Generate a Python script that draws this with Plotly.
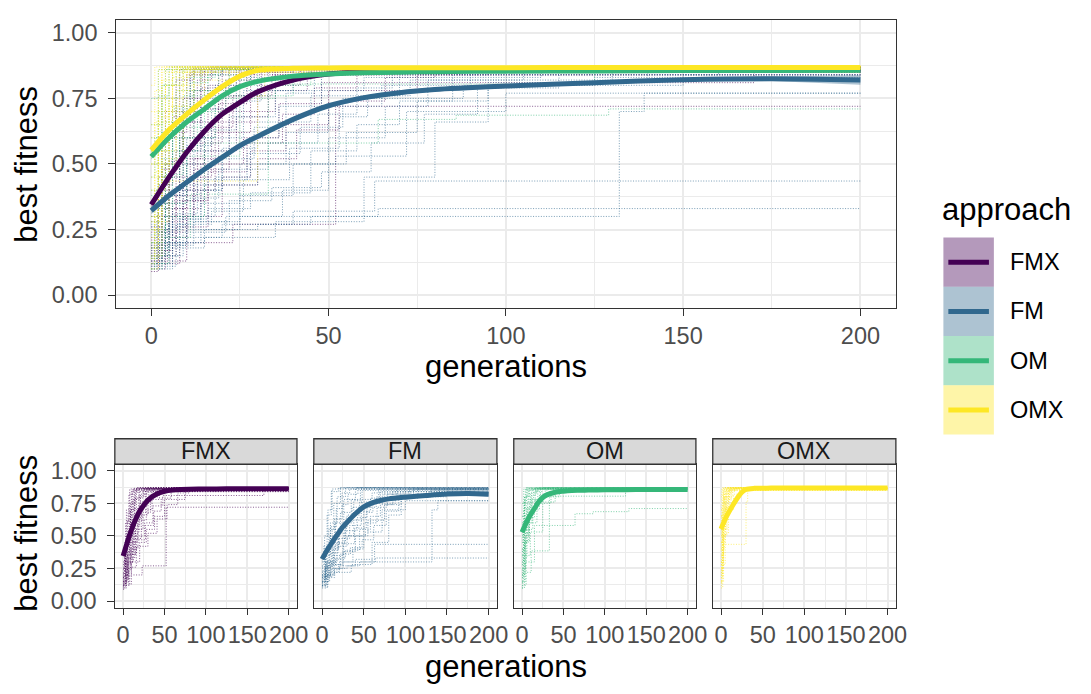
import plotly.graph_objects as go

W, H = 1091, 694

APPROACHES = ["FMX", "FM", "OM", "OMX"]
COLORS = {"FMX": "#440154", "FM": "#31688E", "OM": "#35B779", "OMX": "#FDE725"}
RGB = {"FMX": (68, 1, 84), "FM": (49, 104, 142), "OM": (53, 183, 121), "OMX": (253, 231, 37)}

X_TICKS = [0, 50, 100, 150, 200]
X_MINOR = [25, 75, 125, 175]
Y_TICKS = [0, 0.25, 0.5, 0.75, 1.0]
Y_TICK_LABELS = ["0.00", "0.25", "0.50", "0.75", "1.00"]
Y_MINOR = [0.125, 0.375, 0.625, 0.875]
MAX_GEN = 200

# smoothed mean curves (loess-like)
SMOOTH_GENS = [0, 5, 10, 15, 20, 25, 30, 40, 50, 60, 70, 80, 100, 125, 150, 175, 200]
SMOOTH_FMX = [0.345, 0.45, 0.545, 0.625, 0.69, 0.735, 0.775, 0.82, 0.843, 0.853, 0.857, 0.859, 0.86, 0.861, 0.861, 0.861, 0.861]
SMOOTH_FM = [0.322, 0.38, 0.43, 0.48, 0.525, 0.57, 0.605, 0.67, 0.722, 0.753, 0.772, 0.784, 0.797, 0.81, 0.821, 0.825, 0.82]
SMOOTH_OM = [0.528, 0.6, 0.66, 0.71, 0.76, 0.795, 0.815, 0.835, 0.843, 0.848, 0.85, 0.852, 0.854, 0.855, 0.856, 0.856, 0.857]
SMOOTH_OMX = [0.553, 0.63, 0.69, 0.745, 0.795, 0.835, 0.857, 0.865, 0.866, 0.867, 0.867, 0.867, 0.867, 0.868, 0.868, 0.868, 0.868]
SE_FMX = [0.012, 0.01, 0.009, 0.008, 0.008, 0.007, 0.007, 0.006, 0.006, 0.005, 0.005, 0.005, 0.005, 0.005, 0.005, 0.006, 0.009]
SE_FM = [0.014, 0.011, 0.009, 0.008, 0.008, 0.008, 0.008, 0.008, 0.008, 0.008, 0.008, 0.008, 0.007, 0.006, 0.006, 0.009, 0.018]
SE_OM = [0.011, 0.009, 0.008, 0.007, 0.006, 0.006, 0.005, 0.005, 0.005, 0.005, 0.005, 0.005, 0.005, 0.005, 0.005, 0.006, 0.008]
SE_OMX = [0.011, 0.009, 0.008, 0.007, 0.006, 0.005, 0.004, 0.004, 0.004, 0.004, 0.004, 0.004, 0.004, 0.004, 0.004, 0.004, 0.005]

# individual runs: step points (generation, best fitness); each run holds its last value until generation 200
RUNS_FMX = [
    [(0, 0.12), (2, 0.25), (5, 0.45), (9, 0.70), (14, 0.86)],
    [(0, 0.18), (3, 0.30), (7, 0.55), (12, 0.78), (20, 0.865)],
    [(0, 0.10), (4, 0.22), (10, 0.40), (18, 0.62), (28, 0.85), (40, 0.87)],
    [(0, 0.25), (2, 0.42), (6, 0.68), (11, 0.85)],
    [(0, 0.15), (5, 0.30), (12, 0.48), (22, 0.70), (35, 0.86)],
    [(0, 0.20), (3, 0.35), (8, 0.60), (16, 0.80), (25, 0.865)],
    [(0, 0.12), (8, 0.20), (23, 0.27), (52, 0.72)],
    [(0, 0.30), (4, 0.50), (9, 0.75), (15, 0.86)],
    [(0, 0.14), (6, 0.33), (14, 0.50), (26, 0.60), (36, 0.73), (48, 0.81), (170, 0.86)],
    [(0, 0.22), (2, 0.40), (5, 0.62), (10, 0.84), (18, 0.87)],
    [(0, 0.16), (4, 0.28), (9, 0.45), (17, 0.66), (30, 0.80), (42, 0.86)],
    [(0, 0.35), (3, 0.60), (7, 0.82), (12, 0.865)],
    [(0, 0.11), (3, 0.20), (7, 0.38), (13, 0.58), (20, 0.76), (31, 0.86)],
    [(0, 0.19), (5, 0.40), (11, 0.66), (19, 0.84)],
    [(0, 0.13), (10, 0.30), (20, 0.45), (28, 0.55), (38, 0.65), (50, 0.78), (75, 0.84), (95, 0.86)],
    [(0, 0.28), (2, 0.45), (4, 0.70), (8, 0.86)],
    [(0, 0.17), (6, 0.36), (15, 0.55), (24, 0.68), (33, 0.78), (44, 0.85)],
    [(0, 0.24), (3, 0.38), (8, 0.52), (14, 0.71), (21, 0.82), (29, 0.87)],
    [(0, 0.13), (3, 0.24), (9, 0.36), (16, 0.47), (27, 0.58), (37, 0.69), (46, 0.79), (58, 0.85)],
    [(0, 0.21), (4, 0.33), (10, 0.50), (15, 0.64), (23, 0.76), (34, 0.84)],
    [(0, 0.09), (2, 0.17), (6, 0.30), (12, 0.52), (19, 0.73), (27, 0.86)],
    [(0, 0.26), (3, 0.48), (8, 0.70), (13, 0.82), (17, 0.87)],
    [(0, 0.15), (7, 0.26), (16, 0.42), (30, 0.52), (41, 0.63), (53, 0.74), (66, 0.83), (80, 0.86)],
    [(0, 0.18), (2, 0.33), (5, 0.51), (9, 0.66), (14, 0.79), (24, 0.86)],
]
RUNS_FM = [
    [(0, 0.12), (6, 0.20), (15, 0.25), (30, 0.27), (45, 0.30), (132, 0.70), (139, 0.77)],
    [(0, 0.15), (8, 0.22), (20, 0.27), (40, 0.30), (64, 0.33)],
    [(0, 0.20), (10, 0.28), (25, 0.30), (40, 0.32), (63, 0.435)],
    [(0, 0.18), (5, 0.30), (15, 0.42), (30, 0.50), (52, 0.53), (72, 0.70), (100, 0.77)],
    [(0, 0.25), (5, 0.40), (12, 0.55), (22, 0.68), (35, 0.78), (60, 0.83), (110, 0.86)],
    [(0, 0.14), (3, 0.30), (8, 0.55), (14, 0.75), (22, 0.87)],
    [(0, 0.20), (4, 0.35), (10, 0.60), (18, 0.80), (28, 0.87)],
    [(0, 0.10), (6, 0.20), (14, 0.35), (25, 0.50), (38, 0.62), (50, 0.72), (65, 0.80), (90, 0.86)],
    [(0, 0.30), (3, 0.50), (7, 0.70), (12, 0.86)],
    [(0, 0.16), (5, 0.26), (12, 0.40), (20, 0.56), (30, 0.66), (45, 0.76), (70, 0.84), (160, 0.86)],
    [(0, 0.22), (8, 0.30), (18, 0.45), (28, 0.60), (36, 0.72), (48, 0.85)],
    [(0, 0.13), (4, 0.25), (9, 0.42), (16, 0.60), (26, 0.78), (40, 0.87)],
    [(0, 0.19), (10, 0.25), (25, 0.38), (40, 0.50), (55, 0.62), (75, 0.74), (95, 0.81), (130, 0.85)],
    [(0, 0.27), (2, 0.42), (6, 0.66), (11, 0.84), (20, 0.87)],
    [(0, 0.11), (7, 0.18), (15, 0.22), (35, 0.28), (60, 0.45), (80, 0.66), (95, 0.80), (125, 0.83)],
    [(0, 0.17), (4, 0.27), (11, 0.37), (19, 0.48), (33, 0.58), (47, 0.69), (58, 0.79), (68, 0.86)],
    [(0, 0.23), (6, 0.31), (13, 0.44), (27, 0.54), (42, 0.64), (54, 0.75), (88, 0.80), (150, 0.84)],
    [(0, 0.14), (2, 0.24), (6, 0.38), (10, 0.57), (17, 0.71), (24, 0.83), (33, 0.86)],
    [(0, 0.12), (5, 0.19), (12, 0.28), (22, 0.36), (34, 0.41), (48, 0.47), (62, 0.58), (77, 0.69), (92, 0.79), (115, 0.86)],
    [(0, 0.20), (6, 0.29), (16, 0.33), (28, 0.39), (45, 0.55), (58, 0.65), (70, 0.74), (85, 0.84)],
    [(0, 0.15), (9, 0.24), (21, 0.30), (37, 0.40), (50, 0.60), (66, 0.72), (78, 0.82), (105, 0.86)],
    [(0, 0.26), (4, 0.38), (9, 0.50), (15, 0.63), (24, 0.74), (31, 0.82), (43, 0.87)],
    [(0, 0.12), (3, 0.20), (8, 0.29), (14, 0.40), (20, 0.52), (29, 0.64), (38, 0.77), (46, 0.86)],
    [(0, 0.18), (7, 0.27), (17, 0.32), (26, 0.44), (39, 0.56), (53, 0.68), (61, 0.76), (73, 0.82), (140, 0.86)],
]
RUNS_OM = [
    [(0, 0.15), (4, 0.30), (15, 0.58), (64, 0.67), (86, 0.686), (129, 0.71)],
    [(0, 0.20), (3, 0.45), (8, 0.60), (18, 0.75), (35, 0.805), (125, 0.86)],
    [(0, 0.10), (3, 0.22), (11, 0.385), (33, 0.80), (45, 0.86)],
    [(0, 0.12), (5, 0.35), (10, 0.53), (25, 0.80), (30, 0.86)],
    [(0, 0.30), (2, 0.60), (5, 0.80), (9, 0.865)],
    [(0, 0.50), (2, 0.70), (4, 0.86)],
    [(0, 0.18), (2, 0.45), (6, 0.72), (12, 0.86)],
    [(0, 0.65), (3, 0.80), (6, 0.87)],
    [(0, 0.40), (3, 0.62), (7, 0.78), (14, 0.86)],
    [(0, 0.25), (4, 0.50), (8, 0.70), (16, 0.84), (24, 0.87)],
    [(0, 0.75), (2, 0.86)],
    [(0, 0.55), (3, 0.75), (8, 0.85), (20, 0.87)],
    [(0, 0.20), (1, 0.40), (4, 0.66), (10, 0.83), (18, 0.865)],
    [(0, 0.35), (5, 0.60), (12, 0.78), (22, 0.86)],
    [(0, 0.45), (1, 0.60), (3, 0.80), (7, 0.86)],
    [(0, 0.14), (2, 0.33), (6, 0.55), (13, 0.70), (21, 0.82), (28, 0.87)],
    [(0, 0.28), (3, 0.52), (9, 0.76), (40, 0.84), (60, 0.86)],
    [(0, 0.10), (1, 0.24), (4, 0.46), (9, 0.64), (15, 0.78), (19, 0.86)],
    [(0, 0.60), (2, 0.76), (5, 0.87)],
    [(0, 0.38), (2, 0.55), (6, 0.71), (11, 0.81), (16, 0.87)],
]
RUNS_OMX = [
    [(0, 0.15), (3, 0.435), (30, 0.76), (32, 0.86)],
    [(0, 0.12), (1, 0.30), (3, 0.60), (6, 0.80), (10, 0.865)],
    [(0, 0.50), (2, 0.75), (4, 0.87)],
    [(0, 0.30), (2, 0.55), (5, 0.75), (9, 0.86)],
    [(0, 0.70), (2, 0.86)],
    [(0, 0.20), (2, 0.45), (5, 0.70), (10, 0.84), (16, 0.87)],
    [(0, 0.60), (1, 0.78), (3, 0.87)],
    [(0, 0.40), (2, 0.60), (4, 0.80), (7, 0.865)],
    [(0, 0.25), (3, 0.50), (7, 0.72), (12, 0.86), (20, 0.87)],
    [(0, 0.55), (2, 0.70), (6, 0.86)],
    [(0, 0.80), (1, 0.87)],
    [(0, 0.35), (1, 0.58), (4, 0.80), (8, 0.87)],
    [(0, 0.18), (2, 0.40), (4, 0.62), (8, 0.80), (14, 0.86), (25, 0.87)],
    [(0, 0.65), (3, 0.85)],
    [(0, 0.45), (2, 0.68), (5, 0.85)],
    [(0, 0.10), (2, 0.28), (5, 0.52), (9, 0.70), (15, 0.82), (22, 0.865)],
    [(0, 0.22), (1, 0.47), (3, 0.66), (6, 0.83), (11, 0.87)],
    [(0, 0.14), (1, 0.35), (3, 0.55), (7, 0.78), (12, 0.87)],
    [(0, 0.50), (1, 0.66), (3, 0.82), (6, 0.87)],
    [(0, 0.28), (2, 0.50), (5, 0.72), (9, 0.85), (18, 0.87)],
]

RUNS = {"FMX": RUNS_FMX, "FM": RUNS_FM, "OM": RUNS_OM, "OMX": RUNS_OMX}
SMOOTH = {"FMX": SMOOTH_FMX, "FM": SMOOTH_FM, "OM": SMOOTH_OM, "OMX": SMOOTH_OMX}
SE = {"FMX": SE_FMX, "FM": SE_FM, "OM": SE_OM, "OMX": SE_OMX}

FONT = "Liberation Sans, Arial, Helvetica, sans-serif"
TICK_SIZE = 23.5
TITLE_SIZE = 31
LINE_W = 5


def px(xp):
    return xp / W


def py(yp):
    return 1 - yp / H


def run_xy(runs):
    xs, ys = [], []
    for run in runs:
        for g, v in run:
            xs.append(g)
            ys.append(v)
        xs.append(MAX_GEN)
        ys.append(run[-1][1])
        xs.append(None)
        ys.append(None)
    return xs, ys


def rgba(name, a):
    r, g, b = RGB[name]
    return f"rgba({r},{g},{b},{a})"


fig = go.Figure()


def add_panel(xref, yref, names):
    for n in names:
        xs, ys = run_xy(RUNS[n])
        fig.add_trace(go.Scatter(
            x=xs, y=ys, mode="lines", xaxis=xref, yaxis=yref,
            line=dict(color=rgba(n, 0.8), width=0.8, dash="1px,1.6px", shape="hv"),
            hoverinfo="skip", connectgaps=False))
    for n in names:
        up = [m + s for m, s in zip(SMOOTH[n], SE[n])]
        lo = [m - s for m, s in zip(SMOOTH[n], SE[n])]
        fig.add_trace(go.Scatter(
            x=SMOOTH_GENS + SMOOTH_GENS[::-1], y=up + lo[::-1], mode="lines",
            xaxis=xref, yaxis=yref, fill="toself", fillcolor=rgba(n, 0.4),
            line=dict(width=0), hoverinfo="skip"))
        fig.add_trace(go.Scatter(
            x=SMOOTH_GENS, y=SMOOTH[n], mode="lines", xaxis=xref, yaxis=yref,
            line=dict(color=COLORS[n], width=LINE_W, shape="spline", smoothing=0.8),
            hoverinfo="skip"))


add_panel("x", "y", APPROACHES)
for i, n in enumerate(APPROACHES):
    add_panel(f"x{i + 2}", f"y{i + 2}", [n])

axis_common = dict(
    showline=True, linecolor="#333333", linewidth=1.3, mirror=True,
    ticks="outside", ticklen=6.5, tickwidth=1.3, tickcolor="#333333",
    showgrid=True, gridcolor="#EBEBEB", gridwidth=1.5, zeroline=False,
    tickfont=dict(family=FONT, size=TICK_SIZE, color="#4D4D4D"),
)
xaxis_common = dict(axis_common, range=[-10, 210], tickmode="array", tickvals=X_TICKS,
                    ticktext=[str(v) for v in X_TICKS], tickangle=0,
                    minor=dict(tickvals=X_MINOR, showgrid=True, gridcolor="#EBEBEB", gridwidth=0.7, ticklen=0))
yaxis_common = dict(axis_common, range=[-0.05, 1.05], tickmode="array", tickvals=Y_TICKS,
                    ticktext=Y_TICK_LABELS, ticklabelstandoff=6,
                    minor=dict(tickvals=Y_MINOR, showgrid=True, gridcolor="#EBEBEB", gridwidth=0.7, ticklen=0))

layout = dict(
    width=W, height=H, margin=dict(l=0, r=0, t=0, b=0),
    plot_bgcolor="white", paper_bgcolor="white", showlegend=False,
    font=dict(family=FONT),
    xaxis=dict(xaxis_common, domain=[px(117), px(905)], anchor="y"),
    yaxis=dict(yaxis_common, domain=[py(308), py(14)], anchor="x"),
)
FACET_X = [(116, 300), (317, 502), (519, 703), (720, 905)]
FACET_TOP, FACET_BOTTOM, STRIP_TOP = 467, 613, 441
for i, (a, b) in enumerate(FACET_X):
    k = i + 2
    layout[f"xaxis{k}"] = dict(xaxis_common, domain=[px(a), px(b)], anchor=f"y{k}")
    ya = dict(yaxis_common, domain=[py(FACET_BOTTOM), py(FACET_TOP)], anchor=f"x{k}")
    if i > 0:
        ya["showticklabels"] = False
        ya["ticks"] = ""
    layout[f"yaxis{k}"] = ya
fig.update_layout(**layout)

shapes = []
annotations = []
# strips
for (a, b), n in zip(FACET_X, APPROACHES):
    shapes.append(dict(type="rect", xref="paper", yref="paper", x0=px(a), x1=px(b),
                       y0=py(FACET_TOP), y1=py(STRIP_TOP), fillcolor="#D9D9D9",
                       line=dict(color="#333333", width=1.3)))
    annotations.append(dict(xref="paper", yref="paper", x=px((a + b) / 2), y=py((FACET_TOP + STRIP_TOP) / 2),
                            text=n, showarrow=False, xanchor="center", yanchor="middle",
                            font=dict(family=FONT, size=TICK_SIZE, color="#1A1A1A")))

# axis titles
for xc, yc, t, ang in [(27, 161, "best fitness", -90), (511, 367, "generations", 0),
                       (27, 537, "best fitness", -90), (511, 673, "generations", 0)]:
    annotations.append(dict(xref="paper", yref="paper", x=px(xc), y=py(yc), text=t, showarrow=False,
                            xanchor="center", yanchor="middle", textangle=ang,
                            font=dict(family=FONT, size=TITLE_SIZE, color="black")))

# legend
annotations.append(dict(xref="paper", yref="paper", x=px(950), y=py(207), text="approach", showarrow=False,
                        xanchor="left", yanchor="middle", font=dict(family=FONT, size=TITLE_SIZE, color="black")))
key_top, key_h = 236, 50.2
for j, n in enumerate(APPROACHES):
    t = key_top + j * key_h
    shapes.append(dict(type="rect", xref="paper", yref="paper", x0=px(953), x1=px(1004),
                       y0=py(t + key_h), y1=py(t), fillcolor=rgba(n, 0.4), line=dict(width=0)))
    shapes.append(dict(type="line", xref="paper", yref="paper", x0=px(958), x1=px(999),
                       y0=py(t + key_h / 2), y1=py(t + key_h / 2), line=dict(color=COLORS[n], width=LINE_W)))
    annotations.append(dict(xref="paper", yref="paper", x=px(1018), y=py(t + key_h / 2), text=n,
                            showarrow=False, xanchor="left", yanchor="middle",
                            font=dict(family=FONT, size=TICK_SIZE, color="black")))

fig.update_layout(shapes=shapes, annotations=annotations)
# remove the browser's default page margin so the figure sits at the window corner
fig.write_html("out.html", config={"displayModeBar": False},
               post_script="document.body.style.margin='0px';document.documentElement.style.overflow='hidden';")
